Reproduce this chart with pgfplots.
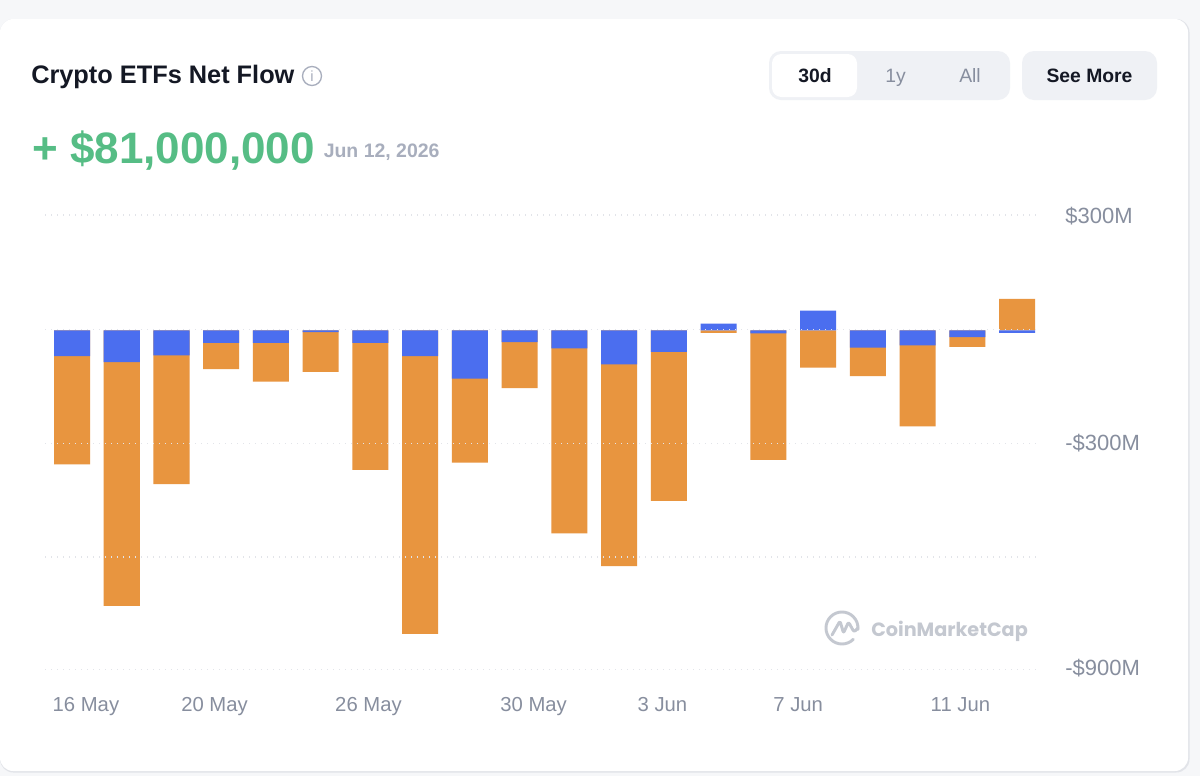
\documentclass[border=0pt]{standalone}
\usepackage{pgfplots}
\pgfplotsset{compat=1.18}
\usepackage{pgfplotstable}
\usepackage{fontspec}
\setmainfont{Liberation Sans}
\newfontfamily\logofont{Poppins}
\definecolor{bar1}{HTML}{4B6EEF}
\definecolor{bar2}{HTML}{E8953F}
\definecolor{upgreen}{HTML}{56BD85}
\definecolor{ink}{HTML}{141824}
\definecolor{axtext}{HTML}{878E9E}
\definecolor{datetext}{HTML}{A8AEBD}
\definecolor{btn}{HTML}{EFF1F5}
\definecolor{page}{HTML}{F6F7F9}
\definecolor{gridc}{HTML}{E2E4E9}
\definecolor{logoc}{HTML}{C4C8D0}

% values in $M: end = where the orange part ends, first = where the blue part ends
\pgfplotstableread{
idx first end
0   -68   -355
1   -84   -729
2   -66   -407
3   -33   -103
4   -33   -136
5    -5   -110
6   -33   -369
7   -68   -803
8  -128   -350
9   -31   -153
10  -48   -537
11  -90   -624
12  -57   -451
13   18     -7
14   -8   -343
15   52    -99
16  -46   -121
17  -40   -254
18  -18    -44
19   -7     83
}\flows

\begin{document}
\begin{tikzpicture}[x=0.75pt,y=-0.75pt]
\useasboundingbox (0,0) rectangle (1200,776);
\fill[page] (0,0) rectangle (1200,776);
\fill[gridc,rounded corners=10pt] (0,19) rectangle (1189.5,772.5);
\fill[white,rounded corners=10pt] (0,19) rectangle (1188,771);

% header
\node[anchor=base west,inner sep=0pt,text=ink] at (31,83) {\fontsize{19}{22}\selectfont\bfseries Crypto ETFs Net Flow};
\draw[datetext,line width=1pt] (312,76) circle (9.5);
\node[anchor=base,text=datetext,inner sep=0pt] at (312,81) {\fontsize{11}{12}\selectfont i};
\node[anchor=base west,inner sep=0pt,text=upgreen] at (32,163) {\fontsize{33}{36}\selectfont\bfseries + \$81,000,000};
\node[anchor=base west,inner sep=0pt,text=datetext] at (323.5,157.5) {\fontsize{14.6}{18}\selectfont\bfseries Jun 12, 2026};

% buttons
\fill[btn,rounded corners=9pt] (769,51) rectangle (1010,100);
\fill[white,rounded corners=7pt] (772,54) rectangle (857,97);
\fill[btn,rounded corners=9pt] (1022,51) rectangle (1157,100);
\node[anchor=base,text=ink,inner sep=0pt] at (815,82) {\fontsize{14.5}{17}\selectfont\bfseries 30d};
\node[anchor=base,text=axtext,inner sep=0pt] at (895.5,82) {\fontsize{14.5}{17}\selectfont 1y};
\node[anchor=base,text=axtext,inner sep=0pt] at (970,82) {\fontsize{14.5}{17}\selectfont All};
\node[anchor=base,text=ink,inner sep=0pt] at (1089.5,82) {\fontsize{14.5}{17}\selectfont\bfseries See More};

% watermark
\draw[logoc,line width=2.2pt,line cap=round] (853.3,639.3) arc[start angle=45,end angle=365,radius=16];
\draw[logoc,line width=2.2pt,line cap=round,line join=round,rounded corners=1.5pt] (832,635) -- (840,621) -- (843.5,633) -- (848.5,622) -- (854,632) -- (858,628);
\node[anchor=base west,inner sep=0pt,text=logoc] at (871,636.5) {\fontsize{14.4}{20}\selectfont\logofont\bfseries CoinMarketCap};

\coordinate (axsw) at (45,669.3);
\begin{axis}[
    at={(axsw)},
    anchor=south west,
    scale only axis,
    width=744.75pt,
    height=340.7pt,
    xmin=-0.543, xmax=19.42,
    ymin=-897, ymax=305,
    axis line style={draw=none},
    major tick length=0pt,
    axis on top,
    ymajorgrids,
    grid style={gridc,line width=0.9pt,dash pattern=on 0.9pt off 3.6pt},
    ytick={305,2,-300,-600,-897},
    yticklabels={\smash{\$300M},,\smash{\raisebox{1.5pt}{-\$300M}},,\smash{\raisebox{1.5pt}{-\$900M}}},
    yticklabel pos=right,
    y tick label style={text=axtext,font=\fontsize{16.5}{18}\selectfont,anchor=west,xshift=17pt,yshift=-6.5pt},
    xtick={0.28,2.865,5.96,9.28,11.87,14.6,17.86},
    xticklabels={16 May,20 May,26 May,30 May,3 Jun,7 Jun,11 Jun},
    x tick label style={text=axtext,font=\fontsize{15.2}{18}\selectfont,anchor=base,yshift=-31.5pt},
    ybar,
    bar shift=0pt,
    bar width=0.724,
  ]
  \addplot[fill=bar2,draw=none] table[x=idx,y=end] {\flows};
  \addplot[fill=bar1,draw=none] table[x=idx,y=first] {\flows};
\end{axis}
\end{tikzpicture}
\end{document}
